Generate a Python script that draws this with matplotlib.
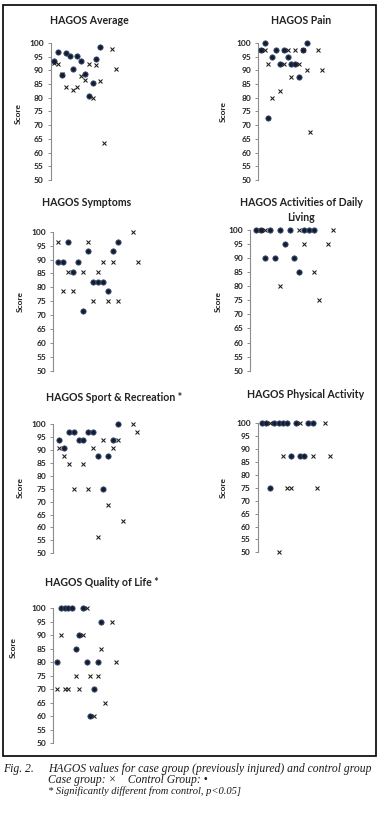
import matplotlib
matplotlib.use("Agg")
import matplotlib.pyplot as plt
from matplotlib.patches import Rectangle

W, H = 382, 818

# case group (x) and control group (dots), slot positions along the x axis
case_x = [1, 2, 3, 4, 6, 7, 8, 9, 10, 11, 12, 13, 14, 16, 17]
ctrl_x = [1, 2, 3, 4, 5, 6, 7, 8, 9, 10, 11, 12, 13]

avg_ctrl = [93.5, 96.6, 88.4, 96.3, 95.1, 90.5, 95.4, 93.5, 88.8, 80.5, 85.4, 94.1, 98.5]
avg_case = [92.7, 92.3, 88.8, 83.9, 82.7, 83.9, 88.0, 86.6, 92.4, 79.8, 91.8, 86.0, 63.4, 97.8, 90.5]

pain_ctrl = [97.5, 100, 72.5, 95, 97.5, 92.5, 97.5, 95, 92.5, 92.5, 87.5, 97.5, 100]
pain_case = [97.5, 97.5, 92.5, 80, 82.5, 92.5, 97.5, 87.5, 97.5, 92.5, 97.5, 90, 67.5, 97.5, 90]

sym_ctrl = [89.3, 89.3, 96.4, 85.7, 89.3, 71.4, 92.9, 82.1, 82.1, 82.1, 78.6, 92.9, 96.4]
sym_case_x = [1, 2, 3, 4, 6, 7, 8, 9, 10, 11, 12, 13, 16, 17]
sym_case = [96.4, 78.6, 85.7, 78.6, 85.7, 96.4, 75, 85.7, 89.3, 75, 89.3, 75, 100, 89.3]

adl_ctrl = [100, 100, 90, 100, 90, 100, 95, 100, 90, 85, 100, 100, 100]
adl_case_x = [2, 3, 6, 10, 11, 13, 14, 16, 17]
adl_case = [100, 100, 80, 100, 95, 85, 75, 95, 100]

sport_ctrl = [93.75, 90.6, 96.9, 96.9, 93.75, 93.75, 96.9, 96.9, 87.5, 75, 87.5, 93.75, 100]
sport_case = [90.6, 87.5, 84.4, 75, 84.4, 75, 90.6, 56.25, 93.75, 68.75, 90.6, 93.75, 62.5, 100, 96.9]

pa_ctrl = [100, 100, 75, 100, 100, 100, 100, 87.5, 100, 87.5, 87.5, 100, 100]
pa_case_x = [3, 5, 6, 7, 8, 10, 13, 14, 16, 17]
pa_case = [100, 50, 87.5, 75, 75, 100, 87.5, 75, 100, 87.5]

qol_ctrl = [80, 100, 100, 100, 100, 85, 90, 100, 80, 60, 70, 80, 95]
qol_case = [70, 90, 70, 70, 75, 70, 90, 100, 75, 60, 75, 85, 65, 95, 80]

yticks = list(range(50, 101, 5))

fig = plt.figure(figsize=(W / 100, H / 100), dpi=100)
fig.patch.set_facecolor("white")

FONT = ["Lato", "DejaVu Sans"]


def panel(box, xlim, title, tpos, lab, cx, cy, kx, ky):
    # box = left px, y of 100 px, right px, y of 50 px
    l, t, r, b = box
    ax = fig.add_axes([l / W, 1 - b / H, (r - l) / W, (b - t) / H])
    ax.plot(cx, cy, "o", ms=3.8, color="#121d33", mec="#3c4d70", mew=0.6,
            clip_on=False, zorder=3)
    ax.plot(kx, ky, "x", ms=3.4, color="#1a1a1a", mew=0.75,
            clip_on=False, zorder=4)
    ax.set_xlim(*xlim)
    ax.set_ylim(50, 100)
    ax.set_yticks(yticks)
    ax.set_yticklabels([str(v) for v in yticks], fontsize=6,
                       fontweight="bold", family=FONT, color="#222222")
    ax.set_xticks([])
    for s in ["top", "right", "bottom"]:
        ax.spines[s].set_visible(False)
    ax.spines["left"].set_color("#8c8c8c")
    ax.spines["left"].set_linewidth(0.8)
    ax.tick_params(axis="y", length=2.5, width=0.7, color="#8c8c8c", pad=2.5)
    ax.patch.set_alpha(0)
    fig.text(tpos[0] / W, 1 - tpos[1] / H, title, ha="center", va="center",
             fontsize=7.6, fontweight="bold", family=FONT, color="#222222",
             linespacing=1.5)
    fig.text(lab[0] / W, 1 - lab[1] / H, "Score", ha="center", va="center",
             rotation=90, fontsize=6, fontweight="bold", family=FONT,
             color="#222222")
    return ax


panel((50.7, 43, 125, 180), (0.06, 19.45), "HAGOS Average", (89, 20), (18, 113),
      ctrl_x, avg_ctrl, case_x, avg_case)
panel((258.3, 43, 335, 180), (0.37, 20.4), "HAGOS Pain", (301, 20), (223, 112),
      ctrl_x, pain_ctrl, case_x, pain_case)
panel((53.3, 231.7, 145, 371), (0.0, 18.5), "HAGOS Symptoms", (87, 203), (20, 301),
      ctrl_x, sym_ctrl, sym_case_x, sym_case)
panel((250, 230, 340, 370.7), (-0.18, 18.45), "HAGOS Activities of Daily\nLiving",
      (301, 210), (218, 301), ctrl_x, adl_ctrl, adl_case_x, adl_case)
panel((53.3, 424, 145, 553.3), (-0.16, 18.55), "HAGOS Sport & Recreation *",
      (114, 397), (20, 488), ctrl_x, sport_ctrl, case_x, sport_case)
panel((257.7, 423.3, 335, 552.3), (0.06, 18.25), "HAGOS Physical Activity",
      (306, 395), (223, 488), ctrl_x, pa_ctrl, pa_case_x, pa_case)
panel((53.3, 608.3, 125, 743.3), (-0.09, 19.45), "HAGOS Quality of Life *",
      (102, 582), (13, 647), ctrl_x, qol_ctrl, case_x, qol_case)

# frame round the panels
fig.patches.append(Rectangle((2.5 / W, 1 - 756 / H), (376 - 2.5) / W, (756 - 5) / H,
                             transform=fig.transFigure, fill=False,
                             edgecolor="black", linewidth=1.2))

CAP = dict(fontsize=8.4, style="italic", family=["Liberation Serif", "DejaVu Serif"],
           color="#1a1a1a", va="center", ha="left")
fig.text(3 / W, 1 - 769 / H, "Fig. 2.", **CAP)
fig.text(48 / W, 1 - 769 / H,
         "HAGOS values for case group (previously injured) and control group", **CAP)
fig.text(48 / W, 1 - 780.5 / H, "Case group: \u00d7    Control Group: \u2022", **CAP)
fig.text(48 / W, 1 - 791 / H, "* Significantly different from control, p<0.05]",
         **dict(CAP, fontsize=7.6))

fig.savefig("out.png", dpi=100)
